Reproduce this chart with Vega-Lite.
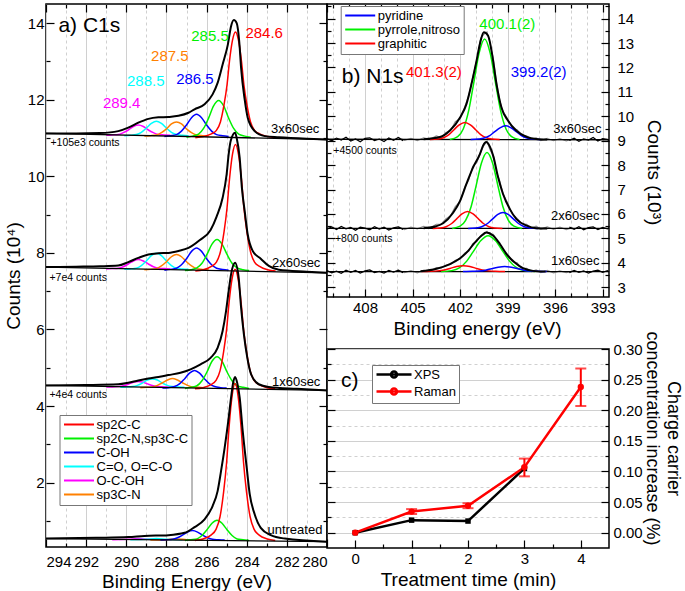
{
"$schema": "https://vega.github.io/schema/vega-lite/v6.json",
"padding": {"left": 3, "top": 2, "right": 2, "bottom": 2},
"spacing": 0,
"bounds": "flush",
"resolve": {"scale": {"color": "independent"}},
"config": {
 "font": "Liberation Sans",
 "view": {"stroke": "black", "strokeWidth": 1.5},
 "axis": {"labelFont": "Liberation Sans", "titleFont": "Liberation Sans", "labelFontSize": 15, "titleFontSize": 19, "titleFontWeight": "normal", "labelColor": "black", "titleColor": "black", "tickColor": "black", "tickWidth": 1.2, "domain": false, "grid": false},
 "legend": {"labelFont": "Liberation Sans", "labelFontSize": 13, "labelColor": "black"},
 "text": {"font": "Liberation Sans"}
},
"datasets": {
 "c1s": [
  {"s":"3x","c":"base","E":294,"y":11.12},{"s":"3x","c":"base","E":280,"y":10.96},
  {"s":"3x","c":"data","E":294,"y":11.12},{"s":"3x","c":"data","E":292.5,"y":11.12},{"s":"3x","c":"data","E":291.3,"y":11.13},{"s":"3x","c":"data","E":290.4,"y":11.18},{"s":"3x","c":"data","E":289.9,"y":11.27},{"s":"3x","c":"data","E":289.4,"y":11.40},{"s":"3x","c":"data","E":288.9,"y":11.50},{"s":"3x","c":"data","E":288.4,"y":11.54},{"s":"3x","c":"data","E":287.9,"y":11.55},{"s":"3x","c":"data","E":287.4,"y":11.58},{"s":"3x","c":"data","E":286.9,"y":11.66},{"s":"3x","c":"data","E":286.6,"y":11.75},{"s":"3x","c":"data","E":286.1,"y":11.88},{"s":"3x","c":"data","E":285.7,"y":12.14},{"s":"3x","c":"data","E":285.45,"y":12.44},{"s":"3x","c":"data","E":285.2,"y":12.92},{"s":"3x","c":"data","E":284.94,"y":13.44},{"s":"3x","c":"data","E":284.78,"y":13.92},{"s":"3x","c":"data","E":284.64,"y":14.08},{"s":"3x","c":"data","E":284.5,"y":14.0},{"s":"3x","c":"data","E":284.36,"y":13.44},{"s":"3x","c":"data","E":284.28,"y":12.83},{"s":"3x","c":"data","E":284.1,"y":12.0},{"s":"3x","c":"data","E":283.95,"y":11.53},{"s":"3x","c":"data","E":283.6,"y":11.18},{"s":"3x","c":"data","E":283.1,"y":11.05},{"s":"3x","c":"data","E":282.4,"y":11.02},{"s":"3x","c":"data","E":281,"y":10.98},{"s":"3x","c":"data","E":280,"y":10.96},
  {"s":"3x","c":"OCOH","E":291.0,"y":11.07},{"s":"3x","c":"OCOH","E":290.7,"y":11.08},{"s":"3x","c":"OCOH","E":290.4,"y":11.09},{"s":"3x","c":"OCOH","E":290.15,"y":11.14},{"s":"3x","c":"OCOH","E":289.9,"y":11.21},{"s":"3x","c":"OCOH","E":289.65,"y":11.30},{"s":"3x","c":"OCOH","E":289.4,"y":11.34},{"s":"3x","c":"OCOH","E":289.15,"y":11.30},{"s":"3x","c":"OCOH","E":288.9,"y":11.21},{"s":"3x","c":"OCOH","E":288.65,"y":11.14},{"s":"3x","c":"OCOH","E":288.4,"y":11.09},{"s":"3x","c":"OCOH","E":288.1,"y":11.08},{"s":"3x","c":"OCOH","E":287.8,"y":11.07},
  {"s":"3x","c":"CO","E":290.1,"y":11.06},{"s":"3x","c":"CO","E":289.8,"y":11.07},{"s":"3x","c":"CO","E":289.5,"y":11.09},{"s":"3x","c":"CO","E":289.25,"y":11.15},{"s":"3x","c":"CO","E":289.0,"y":11.26},{"s":"3x","c":"CO","E":288.75,"y":11.38},{"s":"3x","c":"CO","E":288.5,"y":11.44},{"s":"3x","c":"CO","E":288.25,"y":11.38},{"s":"3x","c":"CO","E":288.0,"y":11.26},{"s":"3x","c":"CO","E":287.75,"y":11.15},{"s":"3x","c":"CO","E":287.5,"y":11.09},{"s":"3x","c":"CO","E":287.2,"y":11.07},{"s":"3x","c":"CO","E":286.9,"y":11.06},
  {"s":"3x","c":"sp3CN","E":289.1,"y":11.05},{"s":"3x","c":"sp3CN","E":288.8,"y":11.06},{"s":"3x","c":"sp3CN","E":288.5,"y":11.08},{"s":"3x","c":"sp3CN","E":288.25,"y":11.14},{"s":"3x","c":"sp3CN","E":288.0,"y":11.24},{"s":"3x","c":"sp3CN","E":287.75,"y":11.37},{"s":"3x","c":"sp3CN","E":287.5,"y":11.42},{"s":"3x","c":"sp3CN","E":287.25,"y":11.37},{"s":"3x","c":"sp3CN","E":287.0,"y":11.24},{"s":"3x","c":"sp3CN","E":286.75,"y":11.14},{"s":"3x","c":"sp3CN","E":286.5,"y":11.08},{"s":"3x","c":"sp3CN","E":286.2,"y":11.06},{"s":"3x","c":"sp3CN","E":285.9,"y":11.05},
  {"s":"3x","c":"COH","E":288.1,"y":11.04},{"s":"3x","c":"COH","E":287.8,"y":11.06},{"s":"3x","c":"COH","E":287.5,"y":11.09},{"s":"3x","c":"COH","E":287.25,"y":11.18},{"s":"3x","c":"COH","E":287.0,"y":11.34},{"s":"3x","c":"COH","E":286.75,"y":11.53},{"s":"3x","c":"COH","E":286.5,"y":11.62},{"s":"3x","c":"COH","E":286.25,"y":11.53},{"s":"3x","c":"COH","E":286.0,"y":11.34},{"s":"3x","c":"COH","E":285.75,"y":11.18},{"s":"3x","c":"COH","E":285.5,"y":11.09},{"s":"3x","c":"COH","E":285.2,"y":11.06},{"s":"3x","c":"COH","E":284.9,"y":11.04},
  {"s":"3x","c":"sp2CN","E":287.0,"y":11.02},{"s":"3x","c":"sp2CN","E":286.7,"y":11.05},{"s":"3x","c":"sp2CN","E":286.4,"y":11.10},{"s":"3x","c":"sp2CN","E":286.15,"y":11.25},{"s":"3x","c":"sp2CN","E":285.9,"y":11.52},{"s":"3x","c":"sp2CN","E":285.65,"y":11.84},{"s":"3x","c":"sp2CN","E":285.4,"y":11.98},{"s":"3x","c":"sp2CN","E":285.15,"y":11.84},{"s":"3x","c":"sp2CN","E":284.9,"y":11.52},{"s":"3x","c":"sp2CN","E":284.65,"y":11.25},{"s":"3x","c":"sp2CN","E":284.4,"y":11.10},{"s":"3x","c":"sp2CN","E":284.1,"y":11.05},{"s":"3x","c":"sp2CN","E":283.8,"y":11.02},
  {"s":"3x","c":"sp2CC","E":286.56,"y":11.01},{"s":"3x","c":"sp2CC","E":286.16,"y":11.04},{"s":"3x","c":"sp2CC","E":285.76,"y":11.11},{"s":"3x","c":"sp2CC","E":285.51,"y":11.20},{"s":"3x","c":"sp2CC","E":285.31,"y":11.42},{"s":"3x","c":"sp2CC","E":285.13,"y":11.87},{"s":"3x","c":"sp2CC","E":284.98,"y":12.39},{"s":"3x","c":"sp2CC","E":284.86,"y":13.00},{"s":"3x","c":"sp2CC","E":284.71,"y":13.55},{"s":"3x","c":"sp2CC","E":284.56,"y":13.77},{"s":"3x","c":"sp2CC","E":284.41,"y":13.55},{"s":"3x","c":"sp2CC","E":284.26,"y":13.00},{"s":"3x","c":"sp2CC","E":284.14,"y":12.39},{"s":"3x","c":"sp2CC","E":283.99,"y":11.87},{"s":"3x","c":"sp2CC","E":283.81,"y":11.42},{"s":"3x","c":"sp2CC","E":283.61,"y":11.20},{"s":"3x","c":"sp2CC","E":283.36,"y":11.11},{"s":"3x","c":"sp2CC","E":282.96,"y":11.04},{"s":"3x","c":"sp2CC","E":282.56,"y":11.01},

  {"s":"2x","c":"base","E":294,"y":7.63},{"s":"2x","c":"base","E":280,"y":7.48},
  {"s":"2x","c":"data","E":294,"y":7.63},{"s":"2x","c":"data","E":292.5,"y":7.64},{"s":"2x","c":"data","E":291.3,"y":7.65},{"s":"2x","c":"data","E":290.4,"y":7.67},{"s":"2x","c":"data","E":289.9,"y":7.76},{"s":"2x","c":"data","E":289.4,"y":7.87},{"s":"2x","c":"data","E":288.9,"y":7.96},{"s":"2x","c":"data","E":288.4,"y":7.99},{"s":"2x","c":"data","E":287.9,"y":8.00},{"s":"2x","c":"data","E":287.4,"y":8.05},{"s":"2x","c":"data","E":286.9,"y":8.13},{"s":"2x","c":"data","E":286.35,"y":8.33},{"s":"2x","c":"data","E":285.8,"y":8.60},{"s":"2x","c":"data","E":285.5,"y":8.95},{"s":"2x","c":"data","E":285.2,"y":9.44},{"s":"2x","c":"data","E":285.0,"y":10.05},{"s":"2x","c":"data","E":284.9,"y":10.57},{"s":"2x","c":"data","E":284.8,"y":10.92},{"s":"2x","c":"data","E":284.58,"y":11.14},{"s":"2x","c":"data","E":284.5,"y":11.0},{"s":"2x","c":"data","E":284.35,"y":10.48},{"s":"2x","c":"data","E":284.24,"y":9.70},{"s":"2x","c":"data","E":284.1,"y":9.09},{"s":"2x","c":"data","E":283.95,"y":8.48},{"s":"2x","c":"data","E":283.7,"y":8.05},{"s":"2x","c":"data","E":283.3,"y":7.85},{"s":"2x","c":"data","E":282.9,"y":7.66},{"s":"2x","c":"data","E":282.4,"y":7.56},{"s":"2x","c":"data","E":281,"y":7.51},{"s":"2x","c":"data","E":280,"y":7.48},
  {"s":"2x","c":"OCOH","E":291.0,"y":7.58},{"s":"2x","c":"OCOH","E":290.7,"y":7.59},{"s":"2x","c":"OCOH","E":290.4,"y":7.60},{"s":"2x","c":"OCOH","E":290.15,"y":7.64},{"s":"2x","c":"OCOH","E":289.9,"y":7.71},{"s":"2x","c":"OCOH","E":289.65,"y":7.79},{"s":"2x","c":"OCOH","E":289.4,"y":7.83},{"s":"2x","c":"OCOH","E":289.15,"y":7.79},{"s":"2x","c":"OCOH","E":288.9,"y":7.71},{"s":"2x","c":"OCOH","E":288.65,"y":7.64},{"s":"2x","c":"OCOH","E":288.4,"y":7.60},{"s":"2x","c":"OCOH","E":288.1,"y":7.59},{"s":"2x","c":"OCOH","E":287.8,"y":7.58},
  {"s":"2x","c":"CO","E":290.1,"y":7.57},{"s":"2x","c":"CO","E":289.8,"y":7.58},{"s":"2x","c":"CO","E":289.5,"y":7.60},{"s":"2x","c":"CO","E":289.25,"y":7.67},{"s":"2x","c":"CO","E":289.0,"y":7.79},{"s":"2x","c":"CO","E":288.75,"y":7.93},{"s":"2x","c":"CO","E":288.5,"y":7.99},{"s":"2x","c":"CO","E":288.25,"y":7.93},{"s":"2x","c":"CO","E":288.0,"y":7.79},{"s":"2x","c":"CO","E":287.75,"y":7.67},{"s":"2x","c":"CO","E":287.5,"y":7.60},{"s":"2x","c":"CO","E":287.2,"y":7.58},{"s":"2x","c":"CO","E":286.9,"y":7.57},
  {"s":"2x","c":"sp3CN","E":289.1,"y":7.56},{"s":"2x","c":"sp3CN","E":288.8,"y":7.57},{"s":"2x","c":"sp3CN","E":288.5,"y":7.59},{"s":"2x","c":"sp3CN","E":288.25,"y":7.66},{"s":"2x","c":"sp3CN","E":288.0,"y":7.77},{"s":"2x","c":"sp3CN","E":287.75,"y":7.90},{"s":"2x","c":"sp3CN","E":287.5,"y":7.96},{"s":"2x","c":"sp3CN","E":287.25,"y":7.90},{"s":"2x","c":"sp3CN","E":287.0,"y":7.77},{"s":"2x","c":"sp3CN","E":286.75,"y":7.66},{"s":"2x","c":"sp3CN","E":286.5,"y":7.59},{"s":"2x","c":"sp3CN","E":286.2,"y":7.57},{"s":"2x","c":"sp3CN","E":285.9,"y":7.56},
  {"s":"2x","c":"COH","E":288.1,"y":7.55},{"s":"2x","c":"COH","E":287.8,"y":7.57},{"s":"2x","c":"COH","E":287.5,"y":7.60},{"s":"2x","c":"COH","E":287.25,"y":7.69},{"s":"2x","c":"COH","E":287.0,"y":7.85},{"s":"2x","c":"COH","E":286.75,"y":8.04},{"s":"2x","c":"COH","E":286.5,"y":8.13},{"s":"2x","c":"COH","E":286.25,"y":8.04},{"s":"2x","c":"COH","E":286.0,"y":7.85},{"s":"2x","c":"COH","E":285.75,"y":7.69},{"s":"2x","c":"COH","E":285.5,"y":7.60},{"s":"2x","c":"COH","E":285.2,"y":7.57},{"s":"2x","c":"COH","E":284.9,"y":7.55},
  {"s":"2x","c":"sp2CN","E":287.08,"y":7.54},{"s":"2x","c":"sp2CN","E":286.78,"y":7.56},{"s":"2x","c":"sp2CN","E":286.48,"y":7.61},{"s":"2x","c":"sp2CN","E":286.23,"y":7.73},{"s":"2x","c":"sp2CN","E":285.98,"y":7.96},{"s":"2x","c":"sp2CN","E":285.73,"y":8.23},{"s":"2x","c":"sp2CN","E":285.48,"y":8.35},{"s":"2x","c":"sp2CN","E":285.23,"y":8.23},{"s":"2x","c":"sp2CN","E":284.98,"y":7.96},{"s":"2x","c":"sp2CN","E":284.73,"y":7.73},{"s":"2x","c":"sp2CN","E":284.48,"y":7.61},{"s":"2x","c":"sp2CN","E":284.18,"y":7.56},{"s":"2x","c":"sp2CN","E":283.88,"y":7.54},
  {"s":"2x","c":"sp2CC","E":286.56,"y":7.53},{"s":"2x","c":"sp2CC","E":286.16,"y":7.56},{"s":"2x","c":"sp2CC","E":285.76,"y":7.65},{"s":"2x","c":"sp2CC","E":285.51,"y":7.76},{"s":"2x","c":"sp2CC","E":285.31,"y":8.03},{"s":"2x","c":"sp2CC","E":285.13,"y":8.55},{"s":"2x","c":"sp2CC","E":284.98,"y":9.18},{"s":"2x","c":"sp2CC","E":284.86,"y":9.91},{"s":"2x","c":"sp2CC","E":284.71,"y":10.57},{"s":"2x","c":"sp2CC","E":284.56,"y":10.83},{"s":"2x","c":"sp2CC","E":284.41,"y":10.57},{"s":"2x","c":"sp2CC","E":284.26,"y":9.91},{"s":"2x","c":"sp2CC","E":284.14,"y":9.18},{"s":"2x","c":"sp2CC","E":283.99,"y":8.55},{"s":"2x","c":"sp2CC","E":283.81,"y":8.03},{"s":"2x","c":"sp2CC","E":283.61,"y":7.76},{"s":"2x","c":"sp2CC","E":283.36,"y":7.65},{"s":"2x","c":"sp2CC","E":282.96,"y":7.56},{"s":"2x","c":"sp2CC","E":282.56,"y":7.53},

  {"s":"1x","c":"base","E":294,"y":4.54},{"s":"1x","c":"base","E":280,"y":4.41},
  {"s":"1x","c":"data","E":294,"y":4.54},{"s":"1x","c":"data","E":292,"y":4.55},{"s":"1x","c":"data","E":290.4,"y":4.57},{"s":"1x","c":"data","E":289.9,"y":4.61},{"s":"1x","c":"data","E":289.4,"y":4.67},{"s":"1x","c":"data","E":288.9,"y":4.72},{"s":"1x","c":"data","E":288.4,"y":4.76},{"s":"1x","c":"data","E":287.9,"y":4.81},{"s":"1x","c":"data","E":287.3,"y":4.87},{"s":"1x","c":"data","E":286.8,"y":4.96},{"s":"1x","c":"data","E":286.3,"y":5.09},{"s":"1x","c":"data","E":285.8,"y":5.26},{"s":"1x","c":"data","E":285.45,"y":5.52},{"s":"1x","c":"data","E":285.2,"y":5.96},{"s":"1x","c":"data","E":285.03,"y":6.48},{"s":"1x","c":"data","E":284.9,"y":7.0},{"s":"1x","c":"data","E":284.78,"y":7.44},{"s":"1x","c":"data","E":284.58,"y":7.74},{"s":"1x","c":"data","E":284.4,"y":7.35},{"s":"1x","c":"data","E":284.28,"y":6.57},{"s":"1x","c":"data","E":284.14,"y":5.87},{"s":"1x","c":"data","E":283.97,"y":5.26},{"s":"1x","c":"data","E":283.78,"y":4.83},{"s":"1x","c":"data","E":283.4,"y":4.57},{"s":"1x","c":"data","E":282.9,"y":4.50},{"s":"1x","c":"data","E":281.5,"y":4.45},{"s":"1x","c":"data","E":280,"y":4.41},
  {"s":"1x","c":"OCOH","E":291.0,"y":4.50},{"s":"1x","c":"OCOH","E":290.7,"y":4.50},{"s":"1x","c":"OCOH","E":290.4,"y":4.51},{"s":"1x","c":"OCOH","E":290.15,"y":4.53},{"s":"1x","c":"OCOH","E":289.9,"y":4.57},{"s":"1x","c":"OCOH","E":289.65,"y":4.62},{"s":"1x","c":"OCOH","E":289.4,"y":4.64},{"s":"1x","c":"OCOH","E":289.15,"y":4.62},{"s":"1x","c":"OCOH","E":288.9,"y":4.57},{"s":"1x","c":"OCOH","E":288.65,"y":4.53},{"s":"1x","c":"OCOH","E":288.4,"y":4.51},{"s":"1x","c":"OCOH","E":288.1,"y":4.50},{"s":"1x","c":"OCOH","E":287.8,"y":4.50},
  {"s":"1x","c":"CO","E":290.3,"y":4.49},{"s":"1x","c":"CO","E":290.0,"y":4.50},{"s":"1x","c":"CO","E":289.7,"y":4.51},{"s":"1x","c":"CO","E":289.45,"y":4.54},{"s":"1x","c":"CO","E":289.2,"y":4.60},{"s":"1x","c":"CO","E":288.95,"y":4.68},{"s":"1x","c":"CO","E":288.7,"y":4.71},{"s":"1x","c":"CO","E":288.45,"y":4.68},{"s":"1x","c":"CO","E":288.2,"y":4.60},{"s":"1x","c":"CO","E":287.95,"y":4.54},{"s":"1x","c":"CO","E":287.7,"y":4.51},{"s":"1x","c":"CO","E":287.4,"y":4.50},{"s":"1x","c":"CO","E":287.1,"y":4.49},
  {"s":"1x","c":"sp3CN","E":289.3,"y":4.48},{"s":"1x","c":"sp3CN","E":289.0,"y":4.49},{"s":"1x","c":"sp3CN","E":288.7,"y":4.50},{"s":"1x","c":"sp3CN","E":288.45,"y":4.54},{"s":"1x","c":"sp3CN","E":288.2,"y":4.61},{"s":"1x","c":"sp3CN","E":287.95,"y":4.68},{"s":"1x","c":"sp3CN","E":287.7,"y":4.72},{"s":"1x","c":"sp3CN","E":287.45,"y":4.68},{"s":"1x","c":"sp3CN","E":287.2,"y":4.61},{"s":"1x","c":"sp3CN","E":286.95,"y":4.54},{"s":"1x","c":"sp3CN","E":286.7,"y":4.50},{"s":"1x","c":"sp3CN","E":286.4,"y":4.49},{"s":"1x","c":"sp3CN","E":286.1,"y":4.48},
  {"s":"1x","c":"COH","E":288.2,"y":4.47},{"s":"1x","c":"COH","E":287.9,"y":4.48},{"s":"1x","c":"COH","E":287.6,"y":4.51},{"s":"1x","c":"COH","E":287.35,"y":4.58},{"s":"1x","c":"COH","E":287.1,"y":4.71},{"s":"1x","c":"COH","E":286.85,"y":4.86},{"s":"1x","c":"COH","E":286.6,"y":4.93},{"s":"1x","c":"COH","E":286.35,"y":4.86},{"s":"1x","c":"COH","E":286.1,"y":4.71},{"s":"1x","c":"COH","E":285.85,"y":4.58},{"s":"1x","c":"COH","E":285.6,"y":4.51},{"s":"1x","c":"COH","E":285.3,"y":4.48},{"s":"1x","c":"COH","E":285.0,"y":4.47},
  {"s":"1x","c":"sp2CN","E":287.08,"y":4.46},{"s":"1x","c":"sp2CN","E":286.78,"y":4.49},{"s":"1x","c":"sp2CN","E":286.48,"y":4.53},{"s":"1x","c":"sp2CN","E":286.23,"y":4.66},{"s":"1x","c":"sp2CN","E":285.98,"y":4.89},{"s":"1x","c":"sp2CN","E":285.73,"y":5.17},{"s":"1x","c":"sp2CN","E":285.48,"y":5.29},{"s":"1x","c":"sp2CN","E":285.23,"y":5.17},{"s":"1x","c":"sp2CN","E":284.98,"y":4.89},{"s":"1x","c":"sp2CN","E":284.73,"y":4.66},{"s":"1x","c":"sp2CN","E":284.48,"y":4.53},{"s":"1x","c":"sp2CN","E":284.18,"y":4.49},{"s":"1x","c":"sp2CN","E":283.88,"y":4.46},
  {"s":"1x","c":"sp2CC","E":286.58,"y":4.45},{"s":"1x","c":"sp2CC","E":286.18,"y":4.48},{"s":"1x","c":"sp2CC","E":285.78,"y":4.56},{"s":"1x","c":"sp2CC","E":285.53,"y":4.67},{"s":"1x","c":"sp2CC","E":285.33,"y":4.92},{"s":"1x","c":"sp2CC","E":285.15,"y":5.42},{"s":"1x","c":"sp2CC","E":285.0,"y":6.01},{"s":"1x","c":"sp2CC","E":284.88,"y":6.70},{"s":"1x","c":"sp2CC","E":284.73,"y":7.32},{"s":"1x","c":"sp2CC","E":284.58,"y":7.57},{"s":"1x","c":"sp2CC","E":284.43,"y":7.32},{"s":"1x","c":"sp2CC","E":284.28,"y":6.70},{"s":"1x","c":"sp2CC","E":284.16,"y":6.01},{"s":"1x","c":"sp2CC","E":284.01,"y":5.42},{"s":"1x","c":"sp2CC","E":283.83,"y":4.92},{"s":"1x","c":"sp2CC","E":283.63,"y":4.67},{"s":"1x","c":"sp2CC","E":283.38,"y":4.56},{"s":"1x","c":"sp2CC","E":282.98,"y":4.48},{"s":"1x","c":"sp2CC","E":282.58,"y":4.45},

  {"s":"un","c":"base","E":294,"y":0.54},{"s":"un","c":"base","E":280,"y":0.46},
  {"s":"un","c":"data","E":294,"y":0.54},{"s":"un","c":"data","E":291.5,"y":0.56},{"s":"un","c":"data","E":289.9,"y":0.58},{"s":"un","c":"data","E":289.1,"y":0.61},{"s":"un","c":"data","E":287.9,"y":0.63},{"s":"un","c":"data","E":287.1,"y":0.69},{"s":"un","c":"data","E":286.6,"y":0.84},{"s":"un","c":"data","E":286.1,"y":1.04},{"s":"un","c":"data","E":285.7,"y":1.39},{"s":"un","c":"data","E":285.45,"y":1.78},{"s":"un","c":"data","E":285.28,"y":2.30},{"s":"un","c":"data","E":285.1,"y":2.91},{"s":"un","c":"data","E":284.94,"y":3.52},{"s":"un","c":"data","E":284.78,"y":4.22},{"s":"un","c":"data","E":284.68,"y":4.60},{"s":"un","c":"data","E":284.58,"y":4.76},{"s":"un","c":"data","E":284.47,"y":4.60},{"s":"un","c":"data","E":284.35,"y":4.22},{"s":"un","c":"data","E":284.2,"y":3.35},{"s":"un","c":"data","E":284.0,"y":2.39},{"s":"un","c":"data","E":283.85,"y":1.70},{"s":"un","c":"data","E":283.6,"y":1.17},{"s":"un","c":"data","E":283.3,"y":0.82},{"s":"un","c":"data","E":282.8,"y":0.63},{"s":"un","c":"data","E":282.1,"y":0.54},{"s":"un","c":"data","E":280,"y":0.46},
  {"s":"un","c":"OCOH","E":290.7,"y":0.51},{"s":"un","c":"OCOH","E":289.9,"y":0.52},{"s":"un","c":"OCOH","E":289.4,"y":0.54},{"s":"un","c":"OCOH","E":288.9,"y":0.52},{"s":"un","c":"OCOH","E":288.1,"y":0.51},
  {"s":"un","c":"CO","E":289.8,"y":0.51},{"s":"un","c":"CO","E":289.0,"y":0.52},{"s":"un","c":"CO","E":288.5,"y":0.54},{"s":"un","c":"CO","E":288.0,"y":0.52},{"s":"un","c":"CO","E":287.2,"y":0.51},
  {"s":"un","c":"sp3CN","E":288.8,"y":0.50},{"s":"un","c":"sp3CN","E":288.0,"y":0.51},{"s":"un","c":"sp3CN","E":287.5,"y":0.53},{"s":"un","c":"sp3CN","E":287.0,"y":0.51},{"s":"un","c":"sp3CN","E":286.2,"y":0.50},
  {"s":"un","c":"COH","E":288.3,"y":0.50},{"s":"un","c":"COH","E":288.0,"y":0.51},{"s":"un","c":"COH","E":287.7,"y":0.52},{"s":"un","c":"COH","E":287.45,"y":0.56},{"s":"un","c":"COH","E":287.2,"y":0.63},{"s":"un","c":"COH","E":286.95,"y":0.71},{"s":"un","c":"COH","E":286.7,"y":0.75},{"s":"un","c":"COH","E":286.45,"y":0.71},{"s":"un","c":"COH","E":286.2,"y":0.63},{"s":"un","c":"COH","E":285.95,"y":0.56},{"s":"un","c":"COH","E":285.7,"y":0.52},{"s":"un","c":"COH","E":285.4,"y":0.51},{"s":"un","c":"COH","E":285.1,"y":0.50},
  {"s":"un","c":"sp2CN","E":287.08,"y":0.49},{"s":"un","c":"sp2CN","E":286.78,"y":0.51},{"s":"un","c":"sp2CN","E":286.48,"y":0.53},{"s":"un","c":"sp2CN","E":286.23,"y":0.62},{"s":"un","c":"sp2CN","E":285.98,"y":0.77},{"s":"un","c":"sp2CN","E":285.73,"y":0.94},{"s":"un","c":"sp2CN","E":285.48,"y":1.02},{"s":"un","c":"sp2CN","E":285.23,"y":0.94},{"s":"un","c":"sp2CN","E":284.98,"y":0.77},{"s":"un","c":"sp2CN","E":284.73,"y":0.62},{"s":"un","c":"sp2CN","E":284.48,"y":0.53},{"s":"un","c":"sp2CN","E":284.18,"y":0.51},{"s":"un","c":"sp2CN","E":283.88,"y":0.49},
  {"s":"un","c":"sp2CC","E":286.58,"y":0.49},{"s":"un","c":"sp2CC","E":286.18,"y":0.53},{"s":"un","c":"sp2CC","E":285.78,"y":0.63},{"s":"un","c":"sp2CC","E":285.53,"y":0.78},{"s":"un","c":"sp2CC","E":285.33,"y":1.11},{"s":"un","c":"sp2CC","E":285.15,"y":1.76},{"s":"un","c":"sp2CC","E":285.0,"y":2.54},{"s":"un","c":"sp2CC","E":284.88,"y":3.44},{"s":"un","c":"sp2CC","E":284.73,"y":4.26},{"s":"un","c":"sp2CC","E":284.58,"y":4.59},{"s":"un","c":"sp2CC","E":284.43,"y":4.26},{"s":"un","c":"sp2CC","E":284.28,"y":3.44},{"s":"un","c":"sp2CC","E":284.16,"y":2.54},{"s":"un","c":"sp2CC","E":284.01,"y":1.76},{"s":"un","c":"sp2CC","E":283.83,"y":1.11},{"s":"un","c":"sp2CC","E":283.63,"y":0.78},{"s":"un","c":"sp2CC","E":283.38,"y":0.63},{"s":"un","c":"sp2CC","E":282.98,"y":0.53},{"s":"un","c":"sp2CC","E":282.58,"y":0.49}
 ],
 "n1s": [
  {"s":"3x","c":"base","E":410.4,"y":9.06},{"s":"3x","c":"base","E":392.6,"y":9.04},
  {"s":"3x","c":"rawL","E":410.4,"y":9.08},{"s":"3x","c":"rawL","E":410.1,"y":9.00},{"s":"3x","c":"rawL","E":409.8,"y":9.11},{"s":"3x","c":"rawL","E":409.5,"y":9.03},{"s":"3x","c":"rawL","E":409.2,"y":9.14},{"s":"3x","c":"rawL","E":408.9,"y":8.99},{"s":"3x","c":"rawL","E":408.6,"y":9.07},{"s":"3x","c":"rawL","E":408.3,"y":8.96},{"s":"3x","c":"rawL","E":408.0,"y":9.10},{"s":"3x","c":"rawL","E":407.7,"y":9.12},{"s":"3x","c":"rawL","E":407.4,"y":9.01},{"s":"3x","c":"rawL","E":407.1,"y":9.07},{"s":"3x","c":"rawL","E":406.8,"y":8.97},{"s":"3x","c":"rawL","E":406.5,"y":9.11},{"s":"3x","c":"rawL","E":406.2,"y":9.02},{"s":"3x","c":"rawL","E":405.9,"y":9.13},{"s":"3x","c":"rawL","E":405.6,"y":9.00},
  {"s":"3x","c":"rawR","E":395.1,"y":9.01},{"s":"3x","c":"rawR","E":394.8,"y":9.10},{"s":"3x","c":"rawR","E":394.5,"y":8.98},{"s":"3x","c":"rawR","E":394.2,"y":9.08},{"s":"3x","c":"rawR","E":393.9,"y":9.03},{"s":"3x","c":"rawR","E":393.6,"y":9.13},{"s":"3x","c":"rawR","E":393.3,"y":8.99},{"s":"3x","c":"rawR","E":393.0,"y":9.09},{"s":"3x","c":"rawR","E":392.7,"y":9.06},{"s":"3x","c":"rawR","E":392.6,"y":9.00},
  {"s":"3x","c":"grey","E":405.9,"y":9.13},{"s":"3x","c":"grey","E":405.5,"y":9.02},{"s":"3x","c":"grey","E":405.1,"y":9.10},{"s":"3x","c":"grey","E":404.7,"y":9.01},{"s":"3x","c":"grey","E":404.3,"y":9.12},{"s":"3x","c":"grey","E":403.9,"y":9.06},{"s":"3x","c":"grey","E":403.5,"y":9.20},{"s":"3x","c":"grey","E":403.2,"y":9.13},{"s":"3x","c":"grey","E":402.9,"y":9.34},{"s":"3x","c":"grey","E":402.6,"y":9.42},{"s":"3x","c":"grey","E":402.3,"y":9.78},{"s":"3x","c":"grey","E":402.0,"y":9.90},{"s":"3x","c":"grey","E":401.7,"y":10.38},{"s":"3x","c":"grey","E":401.45,"y":10.85},{"s":"3x","c":"grey","E":401.2,"y":11.62},{"s":"3x","c":"grey","E":400.95,"y":12.30},{"s":"3x","c":"grey","E":400.7,"y":13.20},{"s":"3x","c":"grey","E":400.5,"y":13.36},{"s":"3x","c":"grey","E":400.3,"y":13.45},{"s":"3x","c":"grey","E":400.1,"y":12.98},{"s":"3x","c":"grey","E":399.9,"y":12.35},{"s":"3x","c":"grey","E":399.7,"y":11.40},{"s":"3x","c":"grey","E":399.5,"y":10.65},{"s":"3x","c":"grey","E":399.3,"y":10.22},{"s":"3x","c":"grey","E":399.0,"y":9.90},{"s":"3x","c":"grey","E":398.7,"y":9.52},{"s":"3x","c":"grey","E":398.4,"y":9.45},{"s":"3x","c":"grey","E":398.1,"y":9.22},{"s":"3x","c":"grey","E":397.8,"y":9.20},{"s":"3x","c":"grey","E":397.5,"y":9.06},{"s":"3x","c":"grey","E":397.2,"y":9.12},{"s":"3x","c":"grey","E":396.9,"y":9.01},{"s":"3x","c":"grey","E":396.5,"y":9.10},{"s":"3x","c":"grey","E":396.1,"y":9.00},{"s":"3x","c":"grey","E":395.7,"y":9.09},{"s":"3x","c":"grey","E":395.3,"y":8.99},{"s":"3x","c":"grey","E":394.9,"y":9.07},
  {"s":"3x","c":"fit","E":404.3,"y":9.06},{"s":"3x","c":"fit","E":403.27,"y":9.15},{"s":"3x","c":"fit","E":402.64,"y":9.42},{"s":"3x","c":"fit","E":402.0,"y":9.95},{"s":"3x","c":"fit","E":401.6,"y":10.5},{"s":"3x","c":"fit","E":401.28,"y":11.32},{"s":"3x","c":"fit","E":400.96,"y":12.28},{"s":"3x","c":"fit","E":400.7,"y":13.1},{"s":"3x","c":"fit","E":400.5,"y":13.44},{"s":"3x","c":"fit","E":400.23,"y":13.3},{"s":"3x","c":"fit","E":399.98,"y":12.55},{"s":"3x","c":"fit","E":399.7,"y":11.32},{"s":"3x","c":"fit","E":399.39,"y":10.36},{"s":"3x","c":"fit","E":398.97,"y":9.82},{"s":"3x","c":"fit","E":398.44,"y":9.41},{"s":"3x","c":"fit","E":397.8,"y":9.16},{"s":"3x","c":"fit","E":397.2,"y":9.07},{"s":"3x","c":"fit","E":396.5,"y":9.05},
  {"s":"3x","c":"pyrr","E":402.65,"y":9.05},{"s":"3x","c":"pyrr","E":402.15,"y":9.17},{"s":"3x","c":"pyrr","E":401.8,"y":9.48},{"s":"3x","c":"pyrr","E":401.45,"y":10.25},{"s":"3x","c":"pyrr","E":401.15,"y":11.32},{"s":"3x","c":"pyrr","E":400.8,"y":12.59},{"s":"3x","c":"pyrr","E":400.45,"y":13.17},{"s":"3x","c":"pyrr","E":400.1,"y":12.59},{"s":"3x","c":"pyrr","E":399.75,"y":11.32},{"s":"3x","c":"pyrr","E":399.45,"y":10.25},{"s":"3x","c":"pyrr","E":399.1,"y":9.48},{"s":"3x","c":"pyrr","E":398.75,"y":9.17},{"s":"3x","c":"pyrr","E":398.25,"y":9.05},
  {"s":"3x","c":"gra","E":403.9,"y":9.05},{"s":"3x","c":"gra","E":403.4,"y":9.07},{"s":"3x","c":"gra","E":403.05,"y":9.12},{"s":"3x","c":"gra","E":402.7,"y":9.25},{"s":"3x","c":"gra","E":402.4,"y":9.44},{"s":"3x","c":"gra","E":402.05,"y":9.65},{"s":"3x","c":"gra","E":401.7,"y":9.75},{"s":"3x","c":"gra","E":401.35,"y":9.65},{"s":"3x","c":"gra","E":401.0,"y":9.44},{"s":"3x","c":"gra","E":400.7,"y":9.25},{"s":"3x","c":"gra","E":400.35,"y":9.12},{"s":"3x","c":"gra","E":400.0,"y":9.07},{"s":"3x","c":"gra","E":399.5,"y":9.05},
  {"s":"3x","c":"pyr","E":401.33,"y":9.05},{"s":"3x","c":"pyr","E":400.83,"y":9.07},{"s":"3x","c":"pyr","E":400.48,"y":9.11},{"s":"3x","c":"pyr","E":400.13,"y":9.21},{"s":"3x","c":"pyr","E":399.83,"y":9.36},{"s":"3x","c":"pyr","E":399.48,"y":9.53},{"s":"3x","c":"pyr","E":399.13,"y":9.61},{"s":"3x","c":"pyr","E":398.78,"y":9.53},{"s":"3x","c":"pyr","E":398.43,"y":9.36},{"s":"3x","c":"pyr","E":398.13,"y":9.21},{"s":"3x","c":"pyr","E":397.78,"y":9.11},{"s":"3x","c":"pyr","E":397.43,"y":9.07},{"s":"3x","c":"pyr","E":396.93,"y":9.05},

  {"s":"2x","c":"base","E":410.4,"y":5.41},{"s":"2x","c":"base","E":392.6,"y":5.41},
  {"s":"2x","c":"rawL","E":410.4,"y":5.38},{"s":"2x","c":"rawL","E":410.1,"y":5.47},{"s":"2x","c":"rawL","E":409.8,"y":5.36},{"s":"2x","c":"rawL","E":409.5,"y":5.49},{"s":"2x","c":"rawL","E":409.2,"y":5.39},{"s":"2x","c":"rawL","E":408.9,"y":5.45},{"s":"2x","c":"rawL","E":408.6,"y":5.33},{"s":"2x","c":"rawL","E":408.3,"y":5.46},{"s":"2x","c":"rawL","E":408.0,"y":5.42},{"s":"2x","c":"rawL","E":407.7,"y":5.35},{"s":"2x","c":"rawL","E":407.4,"y":5.48},{"s":"2x","c":"rawL","E":407.1,"y":5.38},{"s":"2x","c":"rawL","E":406.8,"y":5.46},{"s":"2x","c":"rawL","E":406.5,"y":5.34},{"s":"2x","c":"rawL","E":406.2,"y":5.43},{"s":"2x","c":"rawL","E":405.9,"y":5.47},{"s":"2x","c":"rawL","E":405.6,"y":5.37},
  {"s":"2x","c":"rawR","E":395.1,"y":5.46},{"s":"2x","c":"rawR","E":394.8,"y":5.37},{"s":"2x","c":"rawR","E":394.5,"y":5.48},{"s":"2x","c":"rawR","E":394.2,"y":5.35},{"s":"2x","c":"rawR","E":393.9,"y":5.44},{"s":"2x","c":"rawR","E":393.6,"y":5.47},{"s":"2x","c":"rawR","E":393.3,"y":5.36},{"s":"2x","c":"rawR","E":393.0,"y":5.45},{"s":"2x","c":"rawR","E":392.7,"y":5.39},{"s":"2x","c":"rawR","E":392.6,"y":5.44},
  {"s":"2x","c":"grey","E":405.9,"y":5.47},{"s":"2x","c":"grey","E":405.5,"y":5.36},{"s":"2x","c":"grey","E":405.1,"y":5.46},{"s":"2x","c":"grey","E":404.7,"y":5.39},{"s":"2x","c":"grey","E":404.3,"y":5.49},{"s":"2x","c":"grey","E":403.9,"y":5.43},{"s":"2x","c":"grey","E":403.5,"y":5.58},{"s":"2x","c":"grey","E":403.2,"y":5.58},{"s":"2x","c":"grey","E":402.9,"y":5.80},{"s":"2x","c":"grey","E":402.6,"y":5.93},{"s":"2x","c":"grey","E":402.3,"y":6.30},{"s":"2x","c":"grey","E":402.0,"y":6.50},{"s":"2x","c":"grey","E":401.7,"y":7.10},{"s":"2x","c":"grey","E":401.45,"y":7.40},{"s":"2x","c":"grey","E":401.2,"y":7.95},{"s":"2x","c":"grey","E":400.95,"y":8.10},{"s":"2x","c":"grey","E":400.7,"y":8.52},{"s":"2x","c":"grey","E":400.5,"y":8.80},{"s":"2x","c":"grey","E":400.3,"y":8.98},{"s":"2x","c":"grey","E":400.1,"y":8.62},{"s":"2x","c":"grey","E":399.9,"y":8.38},{"s":"2x","c":"grey","E":399.7,"y":7.72},{"s":"2x","c":"grey","E":399.5,"y":7.35},{"s":"2x","c":"grey","E":399.3,"y":6.85},{"s":"2x","c":"grey","E":399.0,"y":6.45},{"s":"2x","c":"grey","E":398.7,"y":6.00},{"s":"2x","c":"grey","E":398.4,"y":5.82},{"s":"2x","c":"grey","E":398.1,"y":5.60},{"s":"2x","c":"grey","E":397.8,"y":5.58},{"s":"2x","c":"grey","E":397.5,"y":5.43},{"s":"2x","c":"grey","E":397.2,"y":5.50},{"s":"2x","c":"grey","E":396.9,"y":5.38},{"s":"2x","c":"grey","E":396.5,"y":5.47},{"s":"2x","c":"grey","E":396.1,"y":5.37},{"s":"2x","c":"grey","E":395.7,"y":5.46},{"s":"2x","c":"grey","E":395.3,"y":5.36},{"s":"2x","c":"grey","E":394.9,"y":5.44},
  {"s":"2x","c":"fit","E":404.3,"y":5.42},{"s":"2x","c":"fit","E":403.5,"y":5.50},{"s":"2x","c":"fit","E":403.07,"y":5.62},{"s":"2x","c":"fit","E":402.44,"y":6.05},{"s":"2x","c":"fit","E":402.0,"y":6.54},{"s":"2x","c":"fit","E":401.6,"y":7.23},{"s":"2x","c":"fit","E":401.18,"y":7.91},{"s":"2x","c":"fit","E":400.75,"y":8.45},{"s":"2x","c":"fit","E":400.55,"y":8.80},{"s":"2x","c":"fit","E":400.35,"y":8.95},{"s":"2x","c":"fit","E":400.15,"y":8.80},{"s":"2x","c":"fit","E":399.9,"y":8.36},{"s":"2x","c":"fit","E":399.6,"y":7.50},{"s":"2x","c":"fit","E":399.29,"y":6.82},{"s":"2x","c":"fit","E":398.86,"y":6.20},{"s":"2x","c":"fit","E":398.44,"y":5.79},{"s":"2x","c":"fit","E":397.8,"y":5.52},{"s":"2x","c":"fit","E":397.2,"y":5.42},{"s":"2x","c":"fit","E":396.5,"y":5.41},
  {"s":"2x","c":"pyrr","E":402.5,"y":5.41},{"s":"2x","c":"pyrr","E":402.0,"y":5.50},{"s":"2x","c":"pyrr","E":401.65,"y":5.74},{"s":"2x","c":"pyrr","E":401.3,"y":6.31},{"s":"2x","c":"pyrr","E":401.0,"y":7.12},{"s":"2x","c":"pyrr","E":400.65,"y":8.09},{"s":"2x","c":"pyrr","E":400.3,"y":8.52},{"s":"2x","c":"pyrr","E":399.95,"y":8.09},{"s":"2x","c":"pyrr","E":399.6,"y":7.12},{"s":"2x","c":"pyrr","E":399.3,"y":6.31},{"s":"2x","c":"pyrr","E":398.95,"y":5.74},{"s":"2x","c":"pyrr","E":398.6,"y":5.50},{"s":"2x","c":"pyrr","E":398.1,"y":5.41},
  {"s":"2x","c":"gra","E":403.73,"y":5.41},{"s":"2x","c":"gra","E":403.23,"y":5.43},{"s":"2x","c":"gra","E":402.88,"y":5.48},{"s":"2x","c":"gra","E":402.53,"y":5.61},{"s":"2x","c":"gra","E":402.23,"y":5.79},{"s":"2x","c":"gra","E":401.88,"y":6.00},{"s":"2x","c":"gra","E":401.53,"y":6.10},{"s":"2x","c":"gra","E":401.18,"y":6.00},{"s":"2x","c":"gra","E":400.83,"y":5.79},{"s":"2x","c":"gra","E":400.53,"y":5.61},{"s":"2x","c":"gra","E":400.18,"y":5.48},{"s":"2x","c":"gra","E":399.83,"y":5.43},{"s":"2x","c":"gra","E":399.33,"y":5.41},
  {"s":"2x","c":"pyr","E":401.49,"y":5.41},{"s":"2x","c":"pyr","E":400.99,"y":5.43},{"s":"2x","c":"pyr","E":400.64,"y":5.48},{"s":"2x","c":"pyr","E":400.29,"y":5.60},{"s":"2x","c":"pyr","E":399.99,"y":5.77},{"s":"2x","c":"pyr","E":399.64,"y":5.97},{"s":"2x","c":"pyr","E":399.29,"y":6.06},{"s":"2x","c":"pyr","E":398.94,"y":5.97},{"s":"2x","c":"pyr","E":398.59,"y":5.77},{"s":"2x","c":"pyr","E":398.29,"y":5.60},{"s":"2x","c":"pyr","E":397.94,"y":5.48},{"s":"2x","c":"pyr","E":397.59,"y":5.43},{"s":"2x","c":"pyr","E":397.09,"y":5.41},

  {"s":"1x","c":"base","E":410.4,"y":3.64},{"s":"1x","c":"base","E":392.6,"y":3.64},
  {"s":"1x","c":"rawL","E":410.4,"y":3.68},{"s":"1x","c":"rawL","E":410.1,"y":3.59},{"s":"1x","c":"rawL","E":409.8,"y":3.66},{"s":"1x","c":"rawL","E":409.5,"y":3.57},{"s":"1x","c":"rawL","E":409.2,"y":3.70},{"s":"1x","c":"rawL","E":408.9,"y":3.61},{"s":"1x","c":"rawL","E":408.6,"y":3.69},{"s":"1x","c":"rawL","E":408.3,"y":3.58},{"s":"1x","c":"rawL","E":408.0,"y":3.67},{"s":"1x","c":"rawL","E":407.7,"y":3.71},{"s":"1x","c":"rawL","E":407.4,"y":3.60},{"s":"1x","c":"rawL","E":407.1,"y":3.65},{"s":"1x","c":"rawL","E":406.8,"y":3.58},{"s":"1x","c":"rawL","E":406.5,"y":3.69},{"s":"1x","c":"rawL","E":406.2,"y":3.62},{"s":"1x","c":"rawL","E":405.9,"y":3.70},{"s":"1x","c":"rawL","E":405.6,"y":3.59},
  {"s":"1x","c":"rawR","E":395.1,"y":3.60},{"s":"1x","c":"rawR","E":394.8,"y":3.69},{"s":"1x","c":"rawR","E":394.5,"y":3.61},{"s":"1x","c":"rawR","E":394.2,"y":3.67},{"s":"1x","c":"rawR","E":393.9,"y":3.58},{"s":"1x","c":"rawR","E":393.6,"y":3.66},{"s":"1x","c":"rawR","E":393.3,"y":3.70},{"s":"1x","c":"rawR","E":393.0,"y":3.61},{"s":"1x","c":"rawR","E":392.7,"y":3.68},{"s":"1x","c":"rawR","E":392.6,"y":3.63},
  {"s":"1x","c":"grey","E":405.9,"y":3.70},{"s":"1x","c":"grey","E":405.5,"y":3.60},{"s":"1x","c":"grey","E":405.1,"y":3.68},{"s":"1x","c":"grey","E":404.7,"y":3.59},{"s":"1x","c":"grey","E":404.3,"y":3.69},{"s":"1x","c":"grey","E":403.9,"y":3.66},{"s":"1x","c":"grey","E":403.5,"y":3.80},{"s":"1x","c":"grey","E":403.2,"y":3.78},{"s":"1x","c":"grey","E":402.9,"y":3.90},{"s":"1x","c":"grey","E":402.6,"y":3.93},{"s":"1x","c":"grey","E":402.3,"y":4.10},{"s":"1x","c":"grey","E":402.0,"y":4.15},{"s":"1x","c":"grey","E":401.7,"y":4.40},{"s":"1x","c":"grey","E":401.45,"y":4.48},{"s":"1x","c":"grey","E":401.2,"y":4.78},{"s":"1x","c":"grey","E":400.95,"y":4.87},{"s":"1x","c":"grey","E":400.7,"y":5.12},{"s":"1x","c":"grey","E":400.5,"y":5.15},{"s":"1x","c":"grey","E":400.3,"y":5.29},{"s":"1x","c":"grey","E":400.1,"y":5.14},{"s":"1x","c":"grey","E":399.9,"y":5.16},{"s":"1x","c":"grey","E":399.7,"y":4.90},{"s":"1x","c":"grey","E":399.5,"y":4.82},{"s":"1x","c":"grey","E":399.3,"y":4.55},{"s":"1x","c":"grey","E":399.0,"y":4.35},{"s":"1x","c":"grey","E":398.7,"y":4.05},{"s":"1x","c":"grey","E":398.4,"y":4.00},{"s":"1x","c":"grey","E":398.1,"y":3.76},{"s":"1x","c":"grey","E":397.8,"y":3.77},{"s":"1x","c":"grey","E":397.5,"y":3.64},{"s":"1x","c":"grey","E":397.2,"y":3.71},{"s":"1x","c":"grey","E":396.9,"y":3.60},{"s":"1x","c":"grey","E":396.5,"y":3.69},{"s":"1x","c":"grey","E":396.1,"y":3.59},{"s":"1x","c":"grey","E":395.7,"y":3.67},{"s":"1x","c":"grey","E":395.3,"y":3.60},{"s":"1x","c":"grey","E":394.9,"y":3.66},
  {"s":"1x","c":"fit","E":404.5,"y":3.65},{"s":"1x","c":"fit","E":403.48,"y":3.76},{"s":"1x","c":"fit","E":402.64,"y":3.95},{"s":"1x","c":"fit","E":402.0,"y":4.19},{"s":"1x","c":"fit","E":401.49,"y":4.49},{"s":"1x","c":"fit","E":401.07,"y":4.83},{"s":"1x","c":"fit","E":400.65,"y":5.11},{"s":"1x","c":"fit","E":400.35,"y":5.24},{"s":"1x","c":"fit","E":399.9,"y":5.11},{"s":"1x","c":"fit","E":399.49,"y":4.77},{"s":"1x","c":"fit","E":399.07,"y":4.36},{"s":"1x","c":"fit","E":398.55,"y":4.01},{"s":"1x","c":"fit","E":398.03,"y":3.78},{"s":"1x","c":"fit","E":397.4,"y":3.67},{"s":"1x","c":"fit","E":396.6,"y":3.64},
  {"s":"1x","c":"pyrr","E":403.2,"y":3.64},{"s":"1x","c":"pyrr","E":402.53,"y":3.68},{"s":"1x","c":"pyrr","E":402.05,"y":3.79},{"s":"1x","c":"pyrr","E":401.58,"y":4.07},{"s":"1x","c":"pyrr","E":401.18,"y":4.45},{"s":"1x","c":"pyrr","E":400.7,"y":4.90},{"s":"1x","c":"pyrr","E":400.23,"y":5.11},{"s":"1x","c":"pyrr","E":399.76,"y":4.90},{"s":"1x","c":"pyrr","E":399.28,"y":4.45},{"s":"1x","c":"pyrr","E":398.88,"y":4.07},{"s":"1x","c":"pyrr","E":398.41,"y":3.79},{"s":"1x","c":"pyrr","E":397.93,"y":3.68},{"s":"1x","c":"pyrr","E":397.26,"y":3.64},
  {"s":"1x","c":"gra","E":404.44,"y":3.64},{"s":"1x","c":"gra","E":403.84,"y":3.65},{"s":"1x","c":"gra","E":403.42,"y":3.67},{"s":"1x","c":"gra","E":403.0,"y":3.71},{"s":"1x","c":"gra","E":402.64,"y":3.77},{"s":"1x","c":"gra","E":402.22,"y":3.85},{"s":"1x","c":"gra","E":401.8,"y":3.88},{"s":"1x","c":"gra","E":401.38,"y":3.85},{"s":"1x","c":"gra","E":400.96,"y":3.77},{"s":"1x","c":"gra","E":400.6,"y":3.71},{"s":"1x","c":"gra","E":400.18,"y":3.67},{"s":"1x","c":"gra","E":399.76,"y":3.65},{"s":"1x","c":"gra","E":399.16,"y":3.64},
  {"s":"1x","c":"pyr","E":401.82,"y":3.64},{"s":"1x","c":"pyr","E":401.22,"y":3.65},{"s":"1x","c":"pyr","E":400.8,"y":3.66},{"s":"1x","c":"pyr","E":400.38,"y":3.70},{"s":"1x","c":"pyr","E":400.02,"y":3.76},{"s":"1x","c":"pyr","E":399.6,"y":3.82},{"s":"1x","c":"pyr","E":399.18,"y":3.85},{"s":"1x","c":"pyr","E":398.76,"y":3.82},{"s":"1x","c":"pyr","E":398.34,"y":3.76},{"s":"1x","c":"pyr","E":397.98,"y":3.70},{"s":"1x","c":"pyr","E":397.56,"y":3.66},{"s":"1x","c":"pyr","E":397.14,"y":3.65},{"s":"1x","c":"pyr","E":396.54,"y":3.64}
 ],
 "cc": [
  {"m":"XPS","t":0,"v":0},{"m":"XPS","t":1,"v":0.0205},{"m":"XPS","t":2,"v":0.019},{"m":"XPS","t":3,"v":0.105},
  {"m":"Raman","t":0,"v":0},{"m":"Raman","t":1,"v":0.0345,"lo":0.0305,"hi":0.0385},{"m":"Raman","t":2,"v":0.044,"lo":0.040,"hi":0.048},{"m":"Raman","t":3,"v":0.107,"lo":0.092,"hi":0.121},{"m":"Raman","t":4,"v":0.238,"lo":0.207,"hi":0.268}
 ],
 "lab": [
  {"p":"a","k":"title","t":"a) C1s","E":293.38,"y":13.92},
  {"p":"a","k":"peak","c":"sp2CC","t":"284.6","E":283.13,"y":13.75},
  {"p":"a","k":"peak","c":"sp2CN","t":"285.5","E":285.83,"y":13.66},
  {"p":"a","k":"peak","c":"sp3CN","t":"287.5","E":287.83,"y":13.14},
  {"p":"a","k":"peak","c":"COH","t":"286.5","E":286.58,"y":12.54},
  {"p":"a","k":"peak","c":"CO","t":"288.5","E":289.03,"y":12.49},
  {"p":"a","k":"peak","c":"OCOH","t":"289.4","E":290.23,"y":11.91},
  {"p":"a","k":"name","t":"3x60sec","E":280.38,"y":11.23},
  {"p":"a","k":"name","t":"2x60sec","E":280.33,"y":7.73},
  {"p":"a","k":"name","t":"1x60sec","E":280.33,"y":4.63},
  {"p":"a","k":"name","t":"untreated","E":280.23,"y":0.76},
  {"p":"a","k":"off","t":"+105e3 counts","E":293.78,"y":10.87},
  {"p":"a","k":"off","t":"+7e4 counts","E":293.83,"y":7.34},
  {"p":"a","k":"off","t":"+4e4 counts","E":293.83,"y":4.29},
  {"p":"b","k":"title","t":"b) N1s","E":409.47,"y":11.59},
  {"p":"b","k":"peak","c":"gra","t":"401.3(2)","E":403.65,"y":11.80},
  {"p":"b","k":"peak","c":"pyrr","t":"400.1(2)","E":399.02,"y":13.78},
  {"p":"b","k":"peak","c":"pyr","t":"399.2(2)","E":397.04,"y":11.80},
  {"p":"b","k":"name","t":"3x60sec","E":393.07,"y":9.48},
  {"p":"b","k":"name","t":"2x60sec","E":393.2,"y":5.93},
  {"p":"b","k":"name","t":"1x60sec","E":393.2,"y":4.08},
  {"p":"b","k":"off","t":"+4500 counts","E":410.0,"y":8.59},
  {"p":"b","k":"off","t":"+800 counts","E":409.9,"y":4.99},
  {"p":"c","k":"title","t":"c)","E":-0.25,"y":0.248}
 ]
},
"hconcat": [
 {
  "width": 281, "height": 543,
  "resolve": {"axis": {"x": "independent", "y": "independent"}},
  "layer": [
   {
    "data": {"name": "c1s"},
    "transform": [{"filter": "datum.c != 'data' && datum.c != 'base'"}],
    "mark": {"type": "line", "interpolate": "monotone", "strokeWidth": 1.5},
    "encoding": {
     "x": {"field": "E", "type": "quantitative", "scale": {"domain": [280, 294], "reverse": true, "nice": false, "zero": false},
      "axis": {"orient": "bottom", "values": [280,281,282,283,284,285,286,287,288,289,290,291,292,293,294], "labelExpr": "datum.value % 2 == 0 ? datum.label : ''", "tickSize": {"condition": {"test": "datum.value % 2 == 0", "value": -8}, "value": -4}, "labelPadding": 15, "grid": true, "gridColor": "#d0d0d0", "gridDash": {"condition": {"test": "datum.value % 2 == 0", "value": []}, "value": [3, 3]}, "title": "Binding Energy (eV)", "titlePadding": 3}},
     "y": {"field": "y", "type": "quantitative", "scale": {"domain": [0.32, 14.5], "nice": false, "zero": false},
      "axis": {"orient": "left", "values": [1,2,3,4,5,6,7,8,9,10,11,12,13,14], "labelExpr": "datum.value % 2 == 0 ? datum.label : ''", "tickSize": {"condition": {"test": "datum.value % 2 == 0", "value": -8}, "value": -4}, "labelPadding": 10, "title": "Counts (10\u2074)", "titlePadding": 4}},
     "color": {"field": "c", "type": "nominal", "scale": {"domain": ["sp2CC","sp2CN","COH","CO","OCOH","sp3CN"], "range": ["#ff0000","#00f000","#0000ff","#00ffff","#ff00ff","#ff8000"]},
      "legend": {"title": null, "orient": "none", "legendX": 13.5, "legendY": 411, "symbolType": "M-1,0H5", "symbolSize": 100, "symbolStrokeWidth": 2, "labelOffset": 21, "rowPadding": -1, "padding": 3, "strokeColor": "#777777", "fillColor": "white", "labelExpr": "datum.label == 'sp2CC' ? 'sp2C-C' : datum.label == 'sp2CN' ? 'sp2C-N,sp3C-C' : datum.label == 'COH' ? 'C-OH' : datum.label == 'CO' ? 'C=O, O=C-O' : datum.label == 'OCOH' ? 'O-C-OH' : 'sp3C-N'"}},
     "detail": {"field": "s"}
    }
   },
   {
    "data": {"name": "c1s"},
    "transform": [{"filter": "datum.c == 'data'"}],
    "mark": {"type": "line", "interpolate": "monotone", "strokeWidth": 2, "color": "black"},
    "encoding": {
     "x": {"field": "E", "type": "quantitative", "scale": {"domain": [280, 294], "reverse": true, "nice": false, "zero": false},
      "axis": {"orient": "top", "values": [280,281,282,283,284,285,286,287,288,289,290,291,292,293,294], "labels": false, "title": null, "tickSize": {"condition": {"test": "datum.value % 2 == 0", "value": -8}, "value": -4}}},
     "y": {"field": "y", "type": "quantitative", "scale": {"domain": [0.32, 14.5], "nice": false, "zero": false},
      "axis": {"orient": "right", "values": [1,2,3,4,5,6,7,8,9,10,11,12,13,14], "labels": false, "title": null, "tickSize": {"condition": {"test": "datum.value % 2 == 0", "value": -8}, "value": -4}}},
     "detail": {"field": "s"}
    }
   },
   {
    "data": {"name": "c1s"},
    "transform": [{"filter": "datum.c == 'base'"}],
    "mark": {"type": "line", "strokeWidth": 1.3, "color": "black"},
    "encoding": {
     "x": {"field": "E", "type": "quantitative", "axis": null},
     "y": {"field": "y", "type": "quantitative", "axis": null},
     "detail": {"field": "s"}
    }
   },
   {
    "data": {"name": "lab"},
    "transform": [{"filter": "datum.p == 'a' && datum.k == 'peak'"}],
    "mark": {"type": "text", "align": "center", "baseline": "middle", "fontSize": 15},
    "encoding": {
     "x": {"field": "E", "type": "quantitative", "axis": null},
     "y": {"field": "y", "type": "quantitative", "axis": null},
     "text": {"field": "t"},
     "color": {"field": "c", "type": "nominal", "legend": null}
    }
   },
   {
    "data": {"name": "lab"},
    "transform": [{"filter": "datum.p == 'a' && datum.k == 'title'"}],
    "mark": {"type": "text", "align": "left", "baseline": "middle", "fontSize": 21, "color": "black"},
    "encoding": {
     "x": {"field": "E", "type": "quantitative", "axis": null},
     "y": {"field": "y", "type": "quantitative", "axis": null},
     "text": {"field": "t"}
    }
   },
   {
    "data": {"name": "lab"},
    "transform": [{"filter": "datum.p == 'a' && datum.k == 'name'"}],
    "mark": {"type": "text", "align": "right", "baseline": "middle", "fontSize": 13, "color": "black"},
    "encoding": {
     "x": {"field": "E", "type": "quantitative", "axis": null},
     "y": {"field": "y", "type": "quantitative", "axis": null},
     "text": {"field": "t"}
    }
   },
   {
    "data": {"name": "lab"},
    "transform": [{"filter": "datum.p == 'a' && datum.k == 'off'"}],
    "mark": {"type": "text", "align": "left", "baseline": "middle", "fontSize": 10.5, "color": "black"},
    "encoding": {
     "x": {"field": "E", "type": "quantitative", "axis": null},
     "y": {"field": "y", "type": "quantitative", "axis": null},
     "text": {"field": "t"}
    }
   }
  ]
 },
 {
  "vconcat": [
   {
    "width": 282, "height": 293,
    "resolve": {"axis": {"x": "independent", "y": "independent"}},
    "layer": [
     {
      "data": {"name": "n1s"},
      "transform": [{"filter": "datum.c == 'grey'"}],
      "mark": {"type": "line", "strokeWidth": 1.2, "color": "#8c8c8c"},
      "encoding": {
       "x": {"field": "E", "type": "quantitative", "scale": {"domain": [392.6, 410.4], "reverse": true, "nice": false, "zero": false},
        "axis": {"orient": "bottom", "values": [393,394,395,396,397,398,399,400,401,402,403,404,405,406,407,408,409,410], "labelExpr": "datum.value % 3 == 0 ? datum.label : ''", "tickSize": {"condition": {"test": "datum.value % 3 == 0", "value": -8}, "value": -4}, "labelPadding": 11, "grid": true, "gridColor": "#d0d0d0", "gridDash": {"condition": {"test": "datum.value % 3 == 0", "value": []}, "value": [3, 3]}, "title": "Binding energy (eV)", "titlePadding": 4, "titleX": 150}},
       "y": {"field": "y", "type": "quantitative", "scale": {"domain": [2.6, 14.6], "nice": false, "zero": false},
        "axis": {"orient": "right", "values": [3,3.5,4,4.5,5,5.5,6,6.5,7,7.5,8,8.5,9,9.5,10,10.5,11,11.5,12,12.5,13,13.5,14,14.5], "format": ".0f", "labelExpr": "datum.value % 1 == 0 ? datum.label : ''", "tickSize": {"condition": {"test": "datum.value % 1 == 0", "value": -8}, "value": -4}, "labelPadding": 16, "title": "Counts (10\u00b3)", "titlePadding": 10, "titleY": 168}},
       "detail": {"field": "s"}
      }
     },
     {
      "data": {"name": "n1s"},
      "transform": [{"filter": "datum.c == 'rawL' || datum.c == 'rawR'"}],
      "mark": {"type": "line", "strokeWidth": 1.2, "color": "black"},
      "encoding": {
       "x": {"field": "E", "type": "quantitative", "scale": {"domain": [392.6, 410.4], "reverse": true, "nice": false, "zero": false},
        "axis": {"orient": "top", "values": [393,394,395,396,397,398,399,400,401,402,403,404,405,406,407,408,409,410], "labels": false, "title": null, "tickSize": {"condition": {"test": "datum.value % 3 == 0", "value": -8}, "value": -4}}},
       "y": {"field": "y", "type": "quantitative", "scale": {"domain": [2.6, 14.6], "nice": false, "zero": false},
        "axis": {"orient": "left", "values": [3,3.5,4,4.5,5,5.5,6,6.5,7,7.5,8,8.5,9,9.5,10,10.5,11,11.5,12,12.5,13,13.5,14,14.5], "labels": false, "title": null, "tickSize": {"condition": {"test": "datum.value % 1 == 0", "value": -8}, "value": -4}}},
       "detail": [{"field": "s"}, {"field": "c"}]
      }
     },
     {
      "data": {"name": "n1s"},
      "transform": [{"filter": "datum.c == 'base'"}],
      "mark": {"type": "line", "strokeWidth": 1.3, "color": "black"},
      "encoding": {
       "x": {"field": "E", "type": "quantitative", "axis": null},
       "y": {"field": "y", "type": "quantitative", "axis": null},
       "detail": {"field": "s"}
      }
     },
     {
      "data": {"name": "n1s"},
      "transform": [{"filter": "datum.c == 'pyr' || datum.c == 'pyrr' || datum.c == 'gra'"}],
      "mark": {"type": "line", "interpolate": "monotone", "strokeWidth": 1.5},
      "encoding": {
       "x": {"field": "E", "type": "quantitative", "axis": null},
       "y": {"field": "y", "type": "quantitative", "axis": null},
       "color": {"field": "c", "type": "nominal", "scale": {"domain": ["pyr","pyrr","gra"], "range": ["#0000ff","#00f000","#ff0000"]},
        "legend": {"title": null, "orient": "none", "legendX": 13.7, "legendY": 2, "symbolType": "M-1,0H5", "symbolSize": 100, "symbolStrokeWidth": 2, "labelOffset": 21, "rowPadding": 0, "padding": 3, "strokeColor": "#777777", "fillColor": "white", "labelExpr": "datum.label == 'pyr' ? 'pyridine' : datum.label == 'pyrr' ? 'pyrrole,nitroso' : 'graphitic'"}},
       "detail": {"field": "s"}
      }
     },
     {
      "data": {"name": "n1s"},
      "transform": [{"filter": "datum.c == 'fit'"}],
      "mark": {"type": "line", "interpolate": "monotone", "strokeWidth": 2, "color": "black"},
      "encoding": {
       "x": {"field": "E", "type": "quantitative", "axis": null},
       "y": {"field": "y", "type": "quantitative", "axis": null},
       "detail": {"field": "s"}
      }
     },
     {
      "data": {"name": "lab"},
      "transform": [{"filter": "datum.p == 'b' && datum.k == 'peak'"}],
      "mark": {"type": "text", "align": "center", "baseline": "middle", "fontSize": 15},
      "encoding": {
       "x": {"field": "E", "type": "quantitative", "axis": null},
       "y": {"field": "y", "type": "quantitative", "axis": null},
       "text": {"field": "t"},
       "color": {"field": "c", "type": "nominal", "legend": null}
      }
     },
     {
      "data": {"name": "lab"},
      "transform": [{"filter": "datum.p == 'b' && datum.k == 'title'"}],
      "mark": {"type": "text", "align": "left", "baseline": "middle", "fontSize": 21, "color": "black"},
      "encoding": {
       "x": {"field": "E", "type": "quantitative", "axis": null},
       "y": {"field": "y", "type": "quantitative", "axis": null},
       "text": {"field": "t"}
      }
     },
     {
      "data": {"name": "lab"},
      "transform": [{"filter": "datum.p == 'b' && datum.k == 'name'"}],
      "mark": {"type": "text", "align": "right", "baseline": "middle", "fontSize": 13, "color": "black"},
      "encoding": {
       "x": {"field": "E", "type": "quantitative", "axis": null},
       "y": {"field": "y", "type": "quantitative", "axis": null},
       "text": {"field": "t"}
      }
     },
     {
      "data": {"name": "lab"},
      "transform": [{"filter": "datum.p == 'b' && datum.k == 'off'"}],
      "mark": {"type": "text", "align": "left", "baseline": "middle", "fontSize": 10.5, "color": "black"},
      "encoding": {
       "x": {"field": "E", "type": "quantitative", "axis": null},
       "y": {"field": "y", "type": "quantitative", "axis": null},
       "text": {"field": "t"}
      }
     }
    ]
   },
   {
    "width": 282, "height": 199,
    "resolve": {"axis": {"x": "independent", "y": "independent"}},
    "layer": [
     {
      "data": {"name": "cc"},
      "mark": {"type": "line", "strokeWidth": 2.5},
      "encoding": {
       "x": {"field": "t", "type": "quantitative", "scale": {"domain": [-0.5, 4.5], "nice": false, "zero": false},
        "axis": {"orient": "bottom", "values": [0,0.5,1,1.5,2,2.5,3,3.5,4], "format": ".0f", "labelExpr": "datum.value % 1 == 0 ? datum.label : ''", "tickSize": {"condition": {"test": "datum.value % 1 == 0", "value": -8}, "value": -4}, "labelPadding": 11, "title": "Treatment time (min)", "titlePadding": 4}},
       "y": {"field": "v", "type": "quantitative", "scale": {"domain": [-0.025, 0.3], "nice": false, "zero": false},
        "axis": {"orient": "right", "values": [0,0.025,0.05,0.075,0.1,0.125,0.15,0.175,0.2,0.225,0.25,0.275,0.3], "format": ".2f", "labelExpr": "round(datum.value*1000) % 50 == 0 ? datum.label : ''", "tickSize": {"condition": {"test": "round(datum.value*1000) % 50 == 0", "value": -8}, "value": -4}, "labelPadding": 12, "grid": true, "gridColor": "#d0d0d0", "gridDash": {"condition": {"test": "round(datum.value*1000) % 50 == 0", "value": []}, "value": [3, 3]}, "title": ["Charge carrier", "concentration increase (%)"], "titleFontSize": 18, "titleLineHeight": 21, "titlePadding": 0, "titleY": 89}},
       "color": {"field": "m", "type": "nominal", "scale": {"domain": ["XPS", "Raman"], "range": ["black", "#ff0000"]},
        "legend": {"title": null, "orient": "none", "legendX": 45, "legendY": 16, "symbolType": "M-1,0H6M3.1,0A0.6,0.6,0,1,1,1.9,0A0.6,0.6,0,1,1,3.1,0", "symbolSize": 100, "symbolStrokeWidth": 2.5, "labelOffset": 26, "rowPadding": 0, "padding": 3, "strokeColor": "#777777", "fillColor": "white"}}
      }
     },
     {
      "data": {"name": "cc"},
      "transform": [{"filter": "datum.m == 'XPS'"}],
      "mark": {"type": "point", "shape": "square", "filled": true, "size": 30, "color": "black", "opacity": 1},
      "encoding": {
       "x": {"field": "t", "type": "quantitative", "axis": null},
       "y": {"field": "v", "type": "quantitative",
        "axis": {"orient": "left", "values": [0,0.025,0.05,0.075,0.1,0.125,0.15,0.175,0.2,0.225,0.25,0.275,0.3], "labels": false, "title": null, "tickSize": {"condition": {"test": "round(datum.value*1000) % 50 == 0", "value": -8}, "value": -4}}}
      }
     },
     {
      "data": {"name": "cc"},
      "transform": [{"filter": "datum.m == 'Raman'"}],
      "mark": {"type": "point", "shape": "circle", "filled": true, "size": 40, "color": "#ff0000", "opacity": 1},
      "encoding": {
       "x": {"field": "t", "type": "quantitative", "axis": null},
       "y": {"field": "v", "type": "quantitative", "axis": null}
      }
     },
     {
      "data": {"name": "cc"},
      "transform": [{"filter": "isValid(datum.lo)"}],
      "mark": {"type": "rule", "strokeWidth": 2, "color": "#ff0000"},
      "encoding": {
       "x": {"field": "t", "type": "quantitative", "axis": null},
       "y": {"field": "lo", "type": "quantitative", "axis": null},
       "y2": {"field": "hi"}
      }
     },
     {
      "data": {"name": "cc"},
      "transform": [{"filter": "isValid(datum.lo)"}],
      "mark": {"type": "tick", "orient": "horizontal", "size": 11, "thickness": 2, "color": "#ff0000"},
      "encoding": {
       "x": {"field": "t", "type": "quantitative", "axis": null},
       "y": {"field": "lo", "type": "quantitative", "axis": null}
      }
     },
     {
      "data": {"name": "cc"},
      "transform": [{"filter": "isValid(datum.hi)"}],
      "mark": {"type": "tick", "orient": "horizontal", "size": 11, "thickness": 2, "color": "#ff0000"},
      "encoding": {
       "x": {"field": "t", "type": "quantitative", "axis": null},
       "y": {"field": "hi", "type": "quantitative", "axis": null}
      }
     },
     {
      "data": {"name": "lab"},
      "transform": [{"filter": "datum.p == 'c'"}],
      "mark": {"type": "text", "align": "left", "baseline": "middle", "fontSize": 21, "color": "black"},
      "encoding": {
       "x": {"field": "E", "type": "quantitative", "axis": null},
       "y": {"field": "y", "type": "quantitative", "axis": null},
       "text": {"field": "t"}
      }
     }
    ]
   }
  ],
  "spacing": 52,
  "bounds": "flush",
  "resolve": {"scale": {"color": "independent"}}
 }
]
}
